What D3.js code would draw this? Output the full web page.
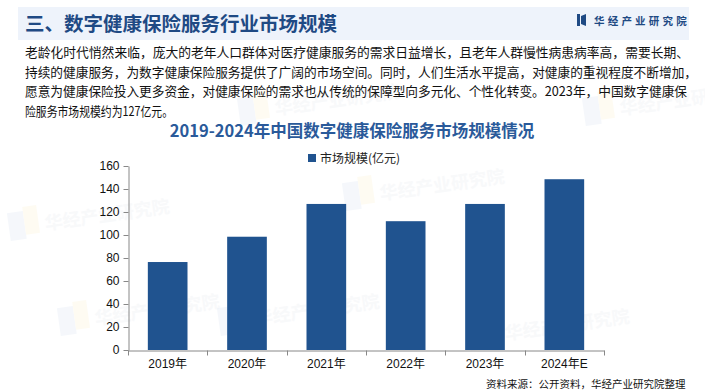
<!DOCTYPE html>
<html><head><meta charset="utf-8">
<script src="https://cdn.jsdelivr.net/npm/d3@7"></script>
<style>
body{margin:0;background:#fff;}
svg{display:block;}
</style></head>
<body>
<svg id="c" width="705" height="391"></svg>
<script>
const categories = ["2019年","2020年","2021年","2022年","2023年","2024年E"];
const values = [76.5, 98.5, 127, 112, 127, 148.5];
const yTicks = [0,20,40,60,80,100,120,140,160];
const seriesName = "市场规模(亿元)";
const pageTitle = "三、数字健康保险服务行业市场规模";
const chartTitle = "2019-2024年中国数字健康保险服务市场规模情况";
const paragraph = [
 "老龄化时代悄然来临，庞大的老年人口群体对医疗健康服务的需求日益增长，且老年人群慢性病患病率高，需要长期、",
 "持续的健康服务，为数字健康保险服务提供了广阔的市场空间。同时，人们生活水平提高，对健康的重视程度不断增加，",
 "愿意为健康保险投入更多资金，对健康保险的需求也从传统的保障型向多元化、个性化转变。2023年，中国数字健康保",
 "险服务市场规模约为127亿元。"
];
const paragraphWidths = [664, 672, 662, 148];
const source = "资料来源：公开资料，华经产业研究院整理";
const brand = "华经产业研究院";

const svg = d3.select("#c");
const CJK = "'Noto Sans CJK SC','Microsoft YaHei',sans-serif";
const NUM = "'Liberation Sans',Arial,'Noto Sans CJK SC',sans-serif";

// watermarks (faint)
const wm = [[240,120],[345,205],[10,235],[60,330],[470,345],[585,120],[220,330]];
wm.forEach(([x,y])=>{
  const g = svg.append("g").attr("transform",`translate(${x},${y}) rotate(-8)`).attr("opacity",0.45);
  g.append("rect").attr("x",0).attr("y",-22).attr("width",16).attr("height",28).attr("fill","#e9eff8");
  g.append("rect").attr("x",16).attr("y",-26).attr("width",14).attr("height",28).attr("fill","#fdf8e4");
  g.append("text").attr("x",36).attr("y",0).text(brand)
    .attr("font-family",CJK).attr("font-weight","bold").attr("font-size",18).attr("fill","#f0f2f6");
});

// header band
svg.append("rect").attr("x",18).attr("y",7).attr("width",671).attr("height",33).attr("fill","#eef3fb");
svg.append("text").attr("x",25).attr("y",31).text(pageTitle)
  .attr("font-family",CJK).attr("font-weight","bold").attr("font-size",19.5).attr("fill","#1f4a84");
// logo
svg.append("rect").attr("x",577).attr("y",14).attr("width",3).attr("height",12).attr("fill","#1f4a84");
svg.append("path").attr("d","M581,16 L586,14 L586,26 L581,24 Z").attr("fill","#1f4a84");
svg.append("text").attr("x",594).attr("y",25).text(brand)
  .attr("font-family",CJK).attr("font-weight","bold").attr("font-size",10.5)
  .attr("letter-spacing",3.2).attr("fill","#1f4a84");

// paragraph
svg.append("g").selectAll("text").data(paragraph).join("text")
  .attr("x",25).attr("y",(d,i)=>57+i*19.6).text(d=>d)
  .attr("textLength",(d,i)=>paragraphWidths[i]).attr("lengthAdjust","spacingAndGlyphs")
  .attr("font-family",CJK).attr("font-size",13).attr("fill","#111");

// chart title
svg.append("text").attr("x",352).attr("y",137).attr("text-anchor","middle").text(chartTitle)
  .attr("font-family",CJK).attr("font-weight","bold").attr("font-size",16.5).attr("fill","#2a5a9a");

// legend
svg.append("rect").attr("x",308).attr("y",154).attr("width",8).attr("height",8).attr("fill","#20538f");
svg.append("text").attr("x",320).attr("y",162.5).text(seriesName)
  .attr("font-family",CJK).attr("font-size",12).attr("fill","#222");

// scales
const x = d3.scaleBand().domain(categories).range([128,604]).paddingInner(0.5).paddingOuter(0.25);
const y = d3.scaleLinear().domain([0,160]).range([350,166]);

// bars
svg.append("g").selectAll("rect").data(values).join("rect")
  .attr("x",(d,i)=>x(categories[i])).attr("width",x.bandwidth())
  .attr("y",d=>y(d)).attr("height",d=>y(0)-y(d)).attr("fill","#20538f");

// y axis
const ya = svg.append("g").attr("transform","translate(128.5,0)")
  .call(d3.axisLeft(y).tickValues(yTicks).tickSize(5).tickSizeOuter(0).tickPadding(4));
ya.select(".domain").attr("stroke","#888");
ya.selectAll(".tick line").attr("stroke","#888");
ya.selectAll(".tick text").attr("font-family",NUM).attr("font-size",12).attr("fill","#111");

// x axis
const xa = svg.append("g").attr("transform","translate(0,350.5)")
  .call(d3.axisBottom(x).tickSize(0).tickSizeOuter(0).tickPadding(9));
xa.select(".domain").attr("stroke","#888");
xa.selectAll(".tick text").attr("font-family",NUM).attr("font-size",12).attr("fill","#111");
const half = (x.step()-x.bandwidth())/2;
const bounds = categories.map(c=>x(c)-half).concat([x(categories[categories.length-1])+x.bandwidth()+half]);
xa.selectAll(".bt").data(bounds).join("line").attr("class","bt")
  .attr("x1",d=>Math.round(d)+0.5).attr("x2",d=>Math.round(d)+0.5).attr("y1",0).attr("y2",5).attr("stroke","#888");

// source
svg.append("text").attr("x",486).attr("y",388).text(source)
  .attr("font-family",CJK).attr("font-size",10.5).attr("fill","#111");
</script>
</body></html>
